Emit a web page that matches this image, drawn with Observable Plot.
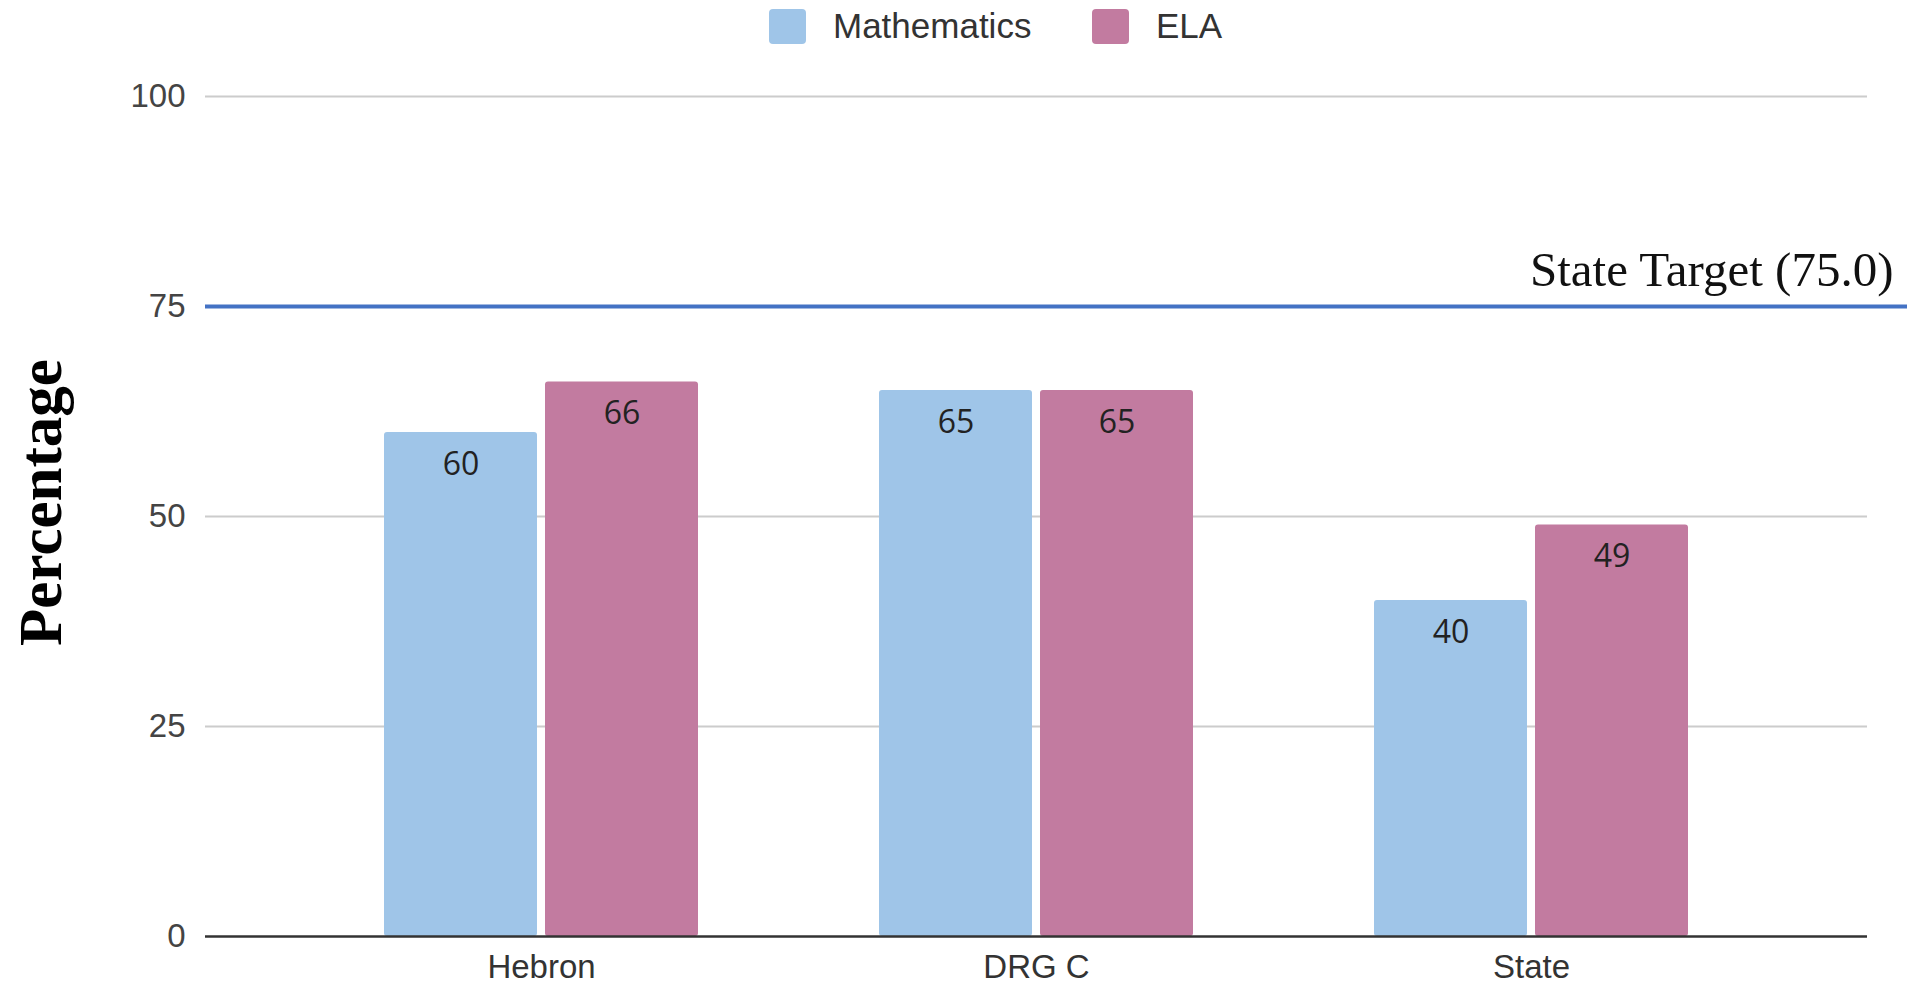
<!DOCTYPE html>
<html>
<head>
<meta charset="utf-8">
<script src="https://cdn.jsdelivr.net/npm/d3@7"></script>
<script src="https://cdn.jsdelivr.net/npm/@observablehq/plot@0.6"></script>
<style>
  html, body { margin: 0; padding: 0; background: #fff; overflow: hidden; }
  #legend { height: 52px; display: flex; align-items: center; padding-left: 769px; box-sizing: border-box;
            font-family: "Liberation Sans", Arial, sans-serif; font-size: 35px; color: #333; }
  .item { display: flex; align-items: center; }
  .item:first-child { width: 323px; }
  .sw { width: 37px; height: 35px; border-radius: 4px; margin-right: 27px; }
  #chart svg { display: block; }
</style>
</head>
<body>
<div id="legend"></div>
<div id="chart"></div>
<script>
const categories = ["Hebron", "DRG C", "State"];
const subjects = ["Mathematics", "ELA"];
const mathValues = [60, 65, 40];
const elaValues = [66, 65, 49];
const colors = ["#9fc5e8", "#c27ba0"];
const yTicks = [0, 25, 50, 75, 100];
const target = 75.0;

const rows = [];
categories.forEach((c, i) => {
  rows.push({category: c, subject: subjects[0], value: mathValues[i]});
  rows.push({category: c, subject: subjects[1], value: elaValues[i]});
});

const legend = document.getElementById("legend");
subjects.forEach((s, i) => {
  const it = document.createElement("div");
  it.className = "item";
  const sw = document.createElement("div");
  sw.className = "sw";
  sw.style.background = colors[i];
  const lb = document.createElement("span");
  lb.textContent = s;
  it.appendChild(sw); it.appendChild(lb);
  legend.appendChild(it);
});

const inset = 161;
const math = rows.filter(d => d.subject === subjects[0]);
const ela = rows.filter(d => d.subject === subjects[1]);

const chart = Plot.plot({
  width: 1911,
  height: 934,
  marginLeft: 205,
  marginRight: 4,
  marginTop: 44,
  marginBottom: 50,
  style: {fontFamily: "Liberation Sans, Arial, sans-serif", background: "#fff"},
  x: {domain: categories, range: [292.5, 1778.5], paddingInner: 0.366, paddingOuter: 0.183, label: null},
  y: {domain: [0, 100], label: null},
  color: {domain: subjects, range: colors},
  marks: [
    Plot.ruleY(yTicks.filter(t => t !== 0), {stroke: "#cccccc", strokeWidth: 2, insetRight: 40}),
    Plot.barY(math, {x: "category", y: "value", fill: "subject", insetRight: inset, rx: 3}),
    Plot.barY(ela, {x: "category", y: "value", fill: "subject", insetLeft: inset, rx: 3}),
    Plot.ruleY([0], {stroke: "#333", strokeWidth: 2.5, insetRight: 40}),
    Plot.ruleY([target], {stroke: "#4472c4", strokeWidth: 4}),
    Plot.text(math, {x: "category", y: "value", text: d => String(d.value), dx: -80.5, dy: 42, lineAnchor: "bottom",
      fontFamily: "Open Sans", fontSize: 32, fill: "#222"}),
    Plot.text(ela, {x: "category", y: "value", text: d => String(d.value), dx: 80.5, dy: 42, lineAnchor: "bottom",
      fontFamily: "Open Sans", fontSize: 32, fill: "#222"}),
    Plot.text([target], {y: d => d, text: d => `State Target (${d.toFixed(1)})`, frameAnchor: "right",
      textAnchor: "end", lineAnchor: "bottom", dx: -14, dy: -21,
      fontFamily: "Liberation Serif", fontSize: 49, fill: "#111"}),
    Plot.text(["Percentage"], {frameAnchor: "left", text: d => d, rotate: -90, textAnchor: "middle",
      lineAnchor: "bottom", dx: -145, dy: -14, fontFamily: "Liberation Serif", fontWeight: "bold",
      fontSize: 61, fill: "#000"}),
    Plot.axisY({ticks: yTicks, tickSize: 0, tickPadding: 20, fontSize: 33, fill: "#444", label: null}),
    Plot.axisX({tickSize: 0, tickPadding: 18, fontSize: 33, fill: "#333", label: null})
  ]
});
document.getElementById("chart").appendChild(chart);
</script>
</body>
</html>
